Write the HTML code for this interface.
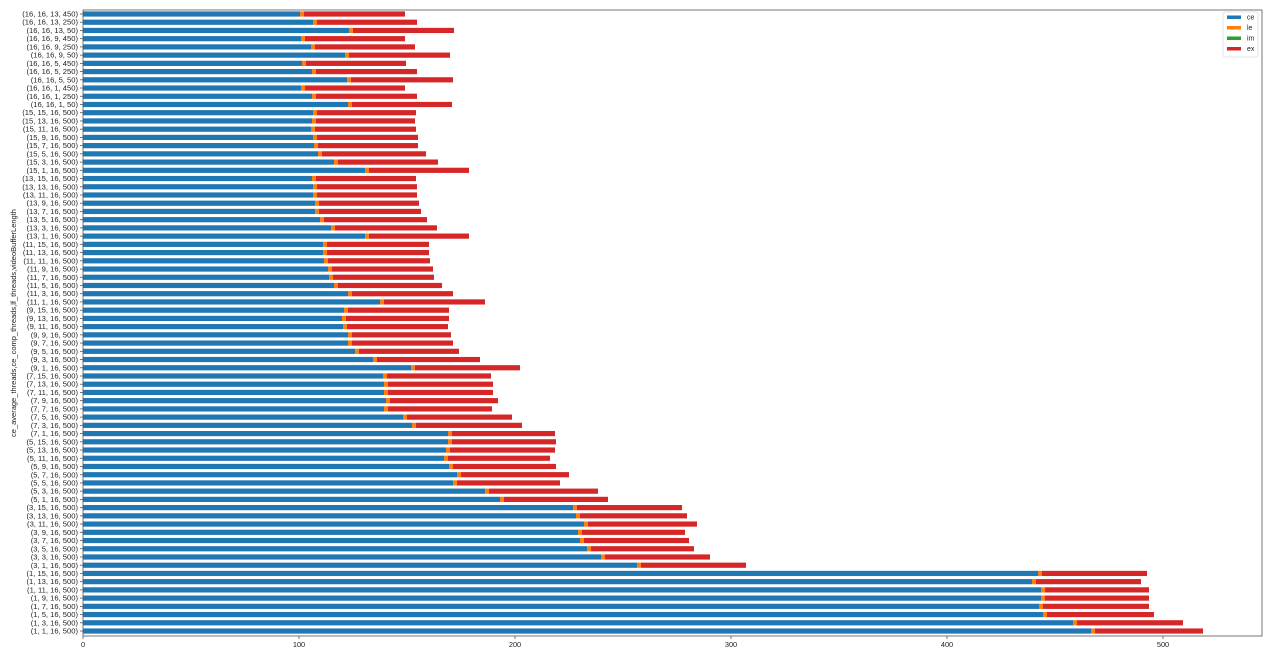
<!DOCTYPE html>
<html><head><meta charset="utf-8"><style>
html,body{margin:0;padding:0;background:#fff;}
svg{display:block;font-family:"Liberation Sans","DejaVu Sans",sans-serif;}
</style></head><body>
<svg id="s" width="1280" height="659" viewBox="0 0 1280 659">
<rect x="0" y="0" width="1280" height="659" fill="#fff"/>
<g id="bars"></g>
<rect x="83" y="10" width="1179" height="626" fill="none" stroke="#555" stroke-width="0.8"/>
<g font-size="7.6" fill="#222" text-anchor="end" id="labels">
<text x="78" y="16.5">(16, 16, 13, 450)</text>
<text x="78" y="24.7">(16, 16, 13, 250)</text>
<text x="78" y="32.9">(16, 16, 13, 50)</text>
<text x="78" y="41.2">(16, 16, 9, 450)</text>
<text x="78" y="49.4">(16, 16, 9, 250)</text>
<text x="78" y="57.6">(16, 16, 9, 50)</text>
<text x="78" y="65.9">(16, 16, 5, 450)</text>
<text x="78" y="74.1">(16, 16, 5, 250)</text>
<text x="78" y="82.3">(16, 16, 5, 50)</text>
<text x="78" y="90.5">(16, 16, 1, 450)</text>
<text x="78" y="98.8">(16, 16, 1, 250)</text>
<text x="78" y="107.0">(16, 16, 1, 50)</text>
<text x="78" y="115.2">(15, 15, 16, 500)</text>
<text x="78" y="123.5">(15, 13, 16, 500)</text>
<text x="78" y="131.7">(15, 11, 16, 500)</text>
<text x="78" y="139.9">(15, 9, 16, 500)</text>
<text x="78" y="148.1">(15, 7, 16, 500)</text>
<text x="78" y="156.4">(15, 5, 16, 500)</text>
<text x="78" y="164.6">(15, 3, 16, 500)</text>
<text x="78" y="172.8">(15, 1, 16, 500)</text>
<text x="78" y="181.0">(13, 15, 16, 500)</text>
<text x="78" y="189.3">(13, 13, 16, 500)</text>
<text x="78" y="197.5">(13, 11, 16, 500)</text>
<text x="78" y="205.7">(13, 9, 16, 500)</text>
<text x="78" y="214.0">(13, 7, 16, 500)</text>
<text x="78" y="222.2">(13, 5, 16, 500)</text>
<text x="78" y="230.4">(13, 3, 16, 500)</text>
<text x="78" y="238.6">(13, 1, 16, 500)</text>
<text x="78" y="246.9">(11, 15, 16, 500)</text>
<text x="78" y="255.1">(11, 13, 16, 500)</text>
<text x="78" y="263.3">(11, 11, 16, 500)</text>
<text x="78" y="271.6">(11, 9, 16, 500)</text>
<text x="78" y="279.8">(11, 7, 16, 500)</text>
<text x="78" y="288.0">(11, 5, 16, 500)</text>
<text x="78" y="296.2">(11, 3, 16, 500)</text>
<text x="78" y="304.5">(11, 1, 16, 500)</text>
<text x="78" y="312.7">(9, 15, 16, 500)</text>
<text x="78" y="320.9">(9, 13, 16, 500)</text>
<text x="78" y="329.2">(9, 11, 16, 500)</text>
<text x="78" y="337.4">(9, 9, 16, 500)</text>
<text x="78" y="345.6">(9, 7, 16, 500)</text>
<text x="78" y="353.8">(9, 5, 16, 500)</text>
<text x="78" y="362.1">(9, 3, 16, 500)</text>
<text x="78" y="370.3">(9, 1, 16, 500)</text>
<text x="78" y="378.5">(7, 15, 16, 500)</text>
<text x="78" y="386.7">(7, 13, 16, 500)</text>
<text x="78" y="395.0">(7, 11, 16, 500)</text>
<text x="78" y="403.2">(7, 9, 16, 500)</text>
<text x="78" y="411.4">(7, 7, 16, 500)</text>
<text x="78" y="419.7">(7, 5, 16, 500)</text>
<text x="78" y="427.9">(7, 3, 16, 500)</text>
<text x="78" y="436.1">(7, 1, 16, 500)</text>
<text x="78" y="444.3">(5, 15, 16, 500)</text>
<text x="78" y="452.6">(5, 13, 16, 500)</text>
<text x="78" y="460.8">(5, 11, 16, 500)</text>
<text x="78" y="469.0">(5, 9, 16, 500)</text>
<text x="78" y="477.3">(5, 7, 16, 500)</text>
<text x="78" y="485.5">(5, 5, 16, 500)</text>
<text x="78" y="493.7">(5, 3, 16, 500)</text>
<text x="78" y="501.9">(5, 1, 16, 500)</text>
<text x="78" y="510.2">(3, 15, 16, 500)</text>
<text x="78" y="518.4">(3, 13, 16, 500)</text>
<text x="78" y="526.6">(3, 11, 16, 500)</text>
<text x="78" y="534.9">(3, 9, 16, 500)</text>
<text x="78" y="543.1">(3, 7, 16, 500)</text>
<text x="78" y="551.3">(3, 5, 16, 500)</text>
<text x="78" y="559.5">(3, 3, 16, 500)</text>
<text x="78" y="567.8">(3, 1, 16, 500)</text>
<text x="78" y="576.0">(1, 15, 16, 500)</text>
<text x="78" y="584.2">(1, 13, 16, 500)</text>
<text x="78" y="592.4">(1, 11, 16, 500)</text>
<text x="78" y="600.7">(1, 9, 16, 500)</text>
<text x="78" y="608.9">(1, 7, 16, 500)</text>
<text x="78" y="617.1">(1, 5, 16, 500)</text>
<text x="78" y="625.4">(1, 3, 16, 500)</text>
<text x="78" y="633.6">(1, 1, 16, 500)</text>
</g>
<g font-size="7.4" fill="#222" text-anchor="middle">
<text x="83" y="647">0</text>
<text x="299" y="647">100</text>
<text x="515" y="647">200</text>
<text x="731" y="647">300</text>
<text x="947" y="647">400</text>
<text x="1163" y="647">500</text>
</g>
<g stroke="#555" stroke-width="0.8">
<line x1="83" y1="636" x2="83" y2="639"/><line x1="299" y1="636" x2="299" y2="639"/><line x1="515" y1="636" x2="515" y2="639"/><line x1="731" y1="636" x2="731" y2="639"/><line x1="947" y1="636" x2="947" y2="639"/><line x1="1163" y1="636" x2="1163" y2="639"/>
</g>
<text x="16" y="323" font-size="7.5" fill="#222" text-anchor="middle" transform="rotate(-90 16 323)">ce_average_threads,ce_comp_threads,lf_threads,videoBufferLength</text>
<g>
<rect x="1223" y="12" width="35" height="45" fill="#fff" stroke="#ddd" stroke-width="0.8" rx="2"/>
<rect x="1227" y="15.5" width="14" height="3.5" fill="#1f77b4"/><text x="1247" y="19.5" font-size="7" fill="#222">ce</text>
<rect x="1227" y="26" width="14" height="3.5" fill="#ff7f0e"/><text x="1247" y="30" font-size="7" fill="#222">le</text>
<rect x="1227" y="36.5" width="14" height="3.5" fill="#2ca02c"/><text x="1247" y="40.5" font-size="7" fill="#222">im</text>
<rect x="1227" y="47" width="14" height="3.5" fill="#d62728"/><text x="1247" y="51" font-size="7" fill="#222">ex</text>
</g>
</svg>
<script>
var d=[[302,405],[315,417],[351,454],[303,405],[313,415],[347,450],[304,406],[314,417],[349,453],[303,405],[314,417],[350,452],
[315,416],[314,415],[313,416],[315,418],[316,418],[320,426],[336,438],[367,469],
[314,416],[315,417],[315,417],[317,419],[317,421],[322,427],[333,437],[367,469],
[325,429],[325,429],[326,430],[330,433],[331,434],[336,442],[350,453],[382,485],
[346,449],[344,449],[345,448],[350,451],[350,453],[357,459],[375,480],[413,520],
[385,491],[386,493],[386,493],[388,498],[386,492],[405,512],[414,522],[450,555],
[450,556],[448,555],[446,550],[451,556],[459,569],[455,560],[487,598],[502,608],
[575,682],[578,687],[586,697],[580,685],[582,689],[589,694],[603,710],[639,746],
[1040,1147],[1034,1141],[1043,1149],[1043,1149],[1041,1149],[1045,1154],[1075,1183],[1093,1203]];
var g=document.getElementById('bars'),h='';
for(var i=0;i<d.length;i++){var c=14+i*8.227,y=(c-2.6).toFixed(2),ce=d[i][0]-2,le=d[i][0]+2;
h+='<rect x="83" y="'+y+'" width="'+(ce-83)+'" height="5.2" fill="#1f77b4"/>'+
'<rect x="'+ce+'" y="'+y+'" width="'+(le-ce)+'" height="5.2" fill="#ff7f0e"/>'+
'<rect x="'+le+'" y="'+y+'" width="'+(d[i][1]-le)+'" height="5.2" fill="#d62728"/>'+
'<line x1="80" y1="'+c+'" x2="83" y2="'+c+'" stroke="#555" stroke-width="0.8"/>';}
g.innerHTML=h;
</script>
</body></html>
